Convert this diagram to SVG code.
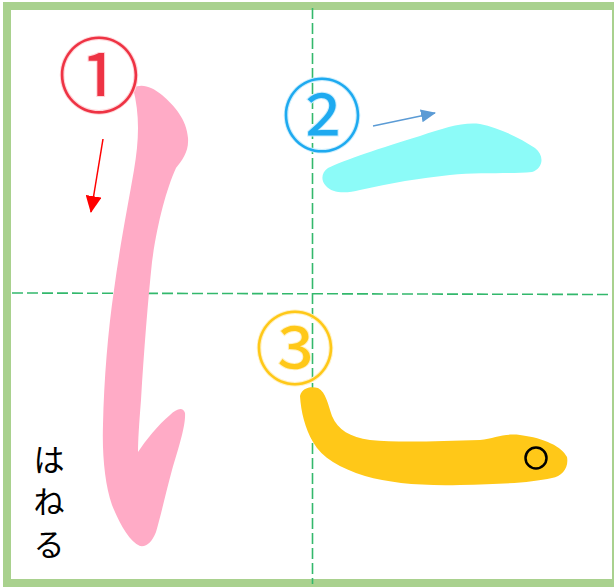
<svg xmlns="http://www.w3.org/2000/svg" width="614" height="587" viewBox="0 0 614 587">
<style>
.guide{stroke:#33b86c;stroke-width:1.6;stroke-dasharray:11 4;fill:none}
.num{font-family:"Noto Sans CJK JP","Noto Sans CJK SC",sans-serif;text-anchor:middle;paint-order:stroke;stroke-width:2}
.kana{font-family:"Noto Sans CJK JP","Noto Sans CJK SC",sans-serif;font-size:31px;fill:#000;text-anchor:middle}
</style>
<defs>
<marker id="ahRed" markerWidth="17" markerHeight="16" refX="16" refY="8" orient="auto" markerUnits="userSpaceOnUse" viewBox="0 0 17 16">
<path d="M0,0 L17,8 L0,16 z" fill="#ff0000"/>
</marker>
<marker id="ahBlue" markerWidth="15" markerHeight="13" refX="14" refY="6.5" orient="auto" markerUnits="userSpaceOnUse" viewBox="0 0 15 13">
<path d="M0,0 L15,6.5 L0,13 z" fill="#5b9bd5"/>
</marker>
</defs>
<rect width="614" height="587" fill="#ffffff"/>
<rect x="7" y="6" width="609" height="577" fill="none" stroke="#a9d18e" stroke-width="8"/>
<g id="guides">
<line class="guide" x1="312.5" y1="8" x2="312.5" y2="584"/>
<line class="guide" x1="12" y1="293" x2="612" y2="294.5"/>
</g>
<g id="stroke1">
<path d="M133,88 C142,83 152,87 162,95 C174,105 187,120 188,138 C189,152 182,160 176,168 C166,190 157,225 152,262 C148,300 144,350 141,400 C139,425 138,440 138,452 C146,440 158,425 170,415 C176,409 183,406 185,413 C186,425 178,450 172,470 C166,492 161,515 156,532 C152,542 147,547 140,546 C130,542 120,525 112,505 C105,485 102,455 103,425 C104,380 108,330 114,290 C120,245 128,205 134,170 C139,140 140,115 133,88 Z" fill="#ffabc6"/>
</g>
<g id="stroke2">
<path d="M328,168 C345,160 380,148 420,136 C445,128 462,122 480,124 C500,128 520,138 535,148 C545,156 543,168 532,172 C510,174 480,172 450,175 C420,178 390,183 360,190 C345,194 332,193 326,186 C320,180 322,172 328,168 Z" fill="#8cfbf8"/>
</g>
<g id="stroke3">
<path d="M300,396 C302,388 310,386 318,388 C326,392 328,405 332,416 C338,430 350,437 370,440 C400,443 440,441 480,440 C495,438 505,433 520,435 C545,438 562,447 567,457 C569,468 562,476 552,478 C530,483 500,484 460,485 C420,486 390,483 365,476 C340,468 322,458 313,442 C305,428 301,412 300,396 Z" fill="#ffc818"/>
<circle cx="536" cy="458" r="10.5" fill="none" stroke="#000" stroke-width="2.5"/>
</g>
<g id="connectors">
<line x1="103" y1="139" x2="91" y2="212" stroke="#ff0000" stroke-width="1.5" marker-end="url(#ahRed)"/>
<line x1="373" y1="126" x2="435" y2="113" stroke="#5b9bd5" stroke-width="1.5" marker-end="url(#ahBlue)"/>
</g>
<g id="label1"><text class="num" x="99" y="106" font-size="82" fill="#ee3344" stroke="#ffd6d9">①</text></g>
<g id="label2"><text class="num" x="322" y="145" font-size="80" fill="#1eaaf0" stroke="#cdeefc">②</text></g>
<g id="label3"><text class="num" x="295" y="378" font-size="80" fill="#ffc818" stroke="#fff1c4">③</text></g>
<g id="hane">
<text class="kana"><tspan x="49" y="471">は</tspan><tspan x="49" y="513">ね</tspan><tspan x="49" y="556">る</tspan></text>
</g>
</svg>
